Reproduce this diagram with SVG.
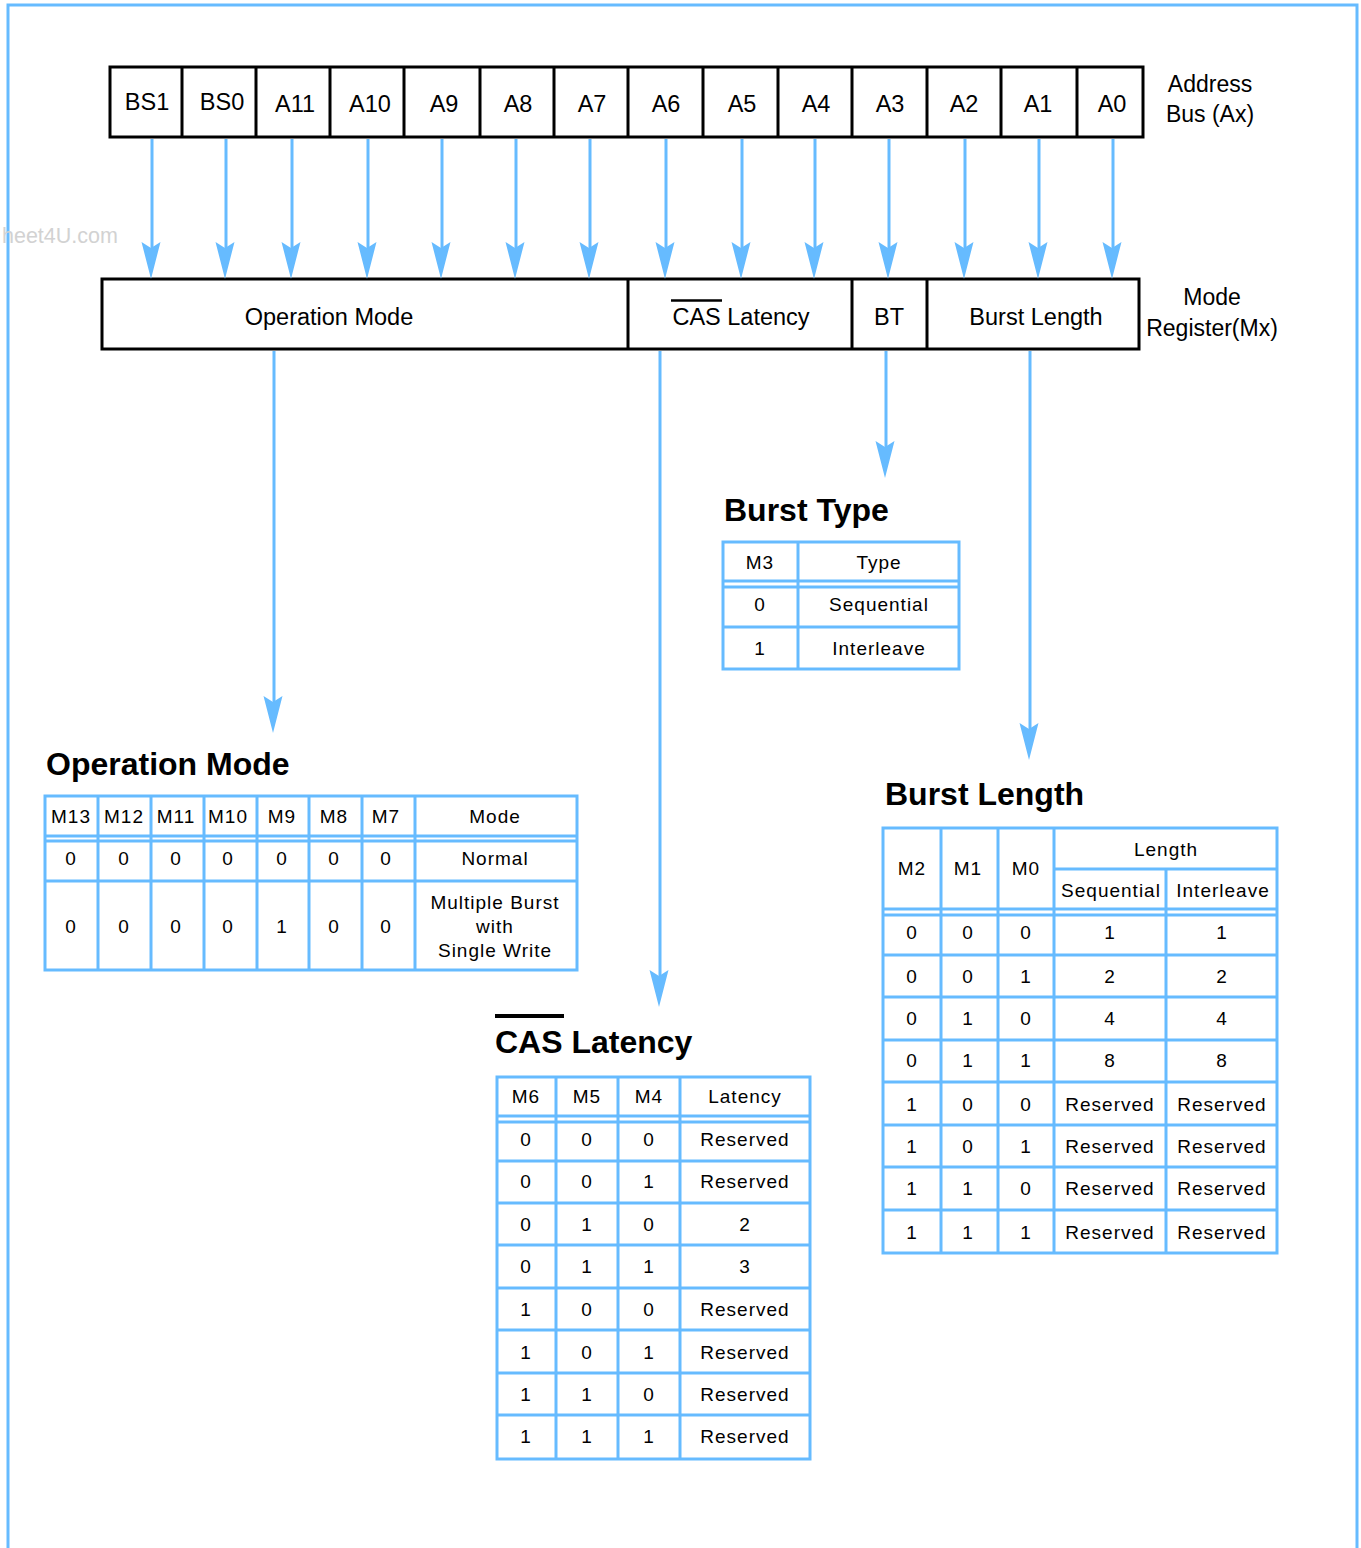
<svg xmlns="http://www.w3.org/2000/svg" xmlns:xlink="http://www.w3.org/1999/xlink" width="1361" height="1548" viewBox="0 0 1361 1548">
<style>
.bg{fill:#ffffff}
.frame{fill:none;stroke:#66bbff;stroke-width:3}
.reg{fill:none;stroke:#000;stroke-width:3}
.rt{font-family:"Liberation Sans",Arial,sans-serif;font-size:23.5px;fill:#000;text-anchor:middle}
.lbl{font-family:"Liberation Sans",Arial,sans-serif;font-size:23px;fill:#000;text-anchor:middle}
.ttl{font-family:"Liberation Sans",Arial,sans-serif;font-size:32px;font-weight:bold;fill:#000}
.tb{fill:none;stroke:#66bbff;stroke-width:3}
.tt{font-family:"Liberation Sans",Arial,sans-serif;font-size:19px;letter-spacing:1px;fill:#000;text-anchor:middle}
.wm{font-family:"Liberation Sans",Arial,sans-serif;font-size:21.5px;fill:#d2d2d2}
.conn{stroke:#66bbff;stroke-width:3;fill:none}
.ah{fill:#66bbff}
</style>
<defs>
<path id="ah" class="ah" d="M-9.5,-37 L0,-31 L9.5,-37 L0,0 Z"/>
</defs>
<rect class="bg" x="0" y="0" width="1361" height="1548"/>
<path class="frame" d="M8,1548 V5 H1357 V1548"/>
<text class="wm" x="2" y="243">heet4U.com</text>

<g id="address-bus">
<rect class="reg" x="110" y="67" width="1033" height="70"/>
<path class="reg" d="M182,67V137 M256,67V137 M330,67V137 M404,67V137 M480,67V137 M554,67V137 M628,67V137 M703,67V137 M778,67V137 M852,67V137 M927,67V137 M1001,67V137 M1077,67V137"/>
<text class="rt" x="147" y="110">BS1</text>
<text class="rt" x="222" y="110">BS0</text>
<text class="rt" x="295" y="112">A11</text>
<text class="rt" x="370" y="112">A10</text>
<text class="rt" x="444" y="112">A9</text>
<text class="rt" x="518" y="112">A8</text>
<text class="rt" x="592" y="112">A7</text>
<text class="rt" x="666" y="112">A6</text>
<text class="rt" x="742" y="112">A5</text>
<text class="rt" x="816" y="112">A4</text>
<text class="rt" x="890" y="112">A3</text>
<text class="rt" x="964" y="112">A2</text>
<text class="rt" x="1038" y="112">A1</text>
<text class="rt" x="1112" y="112">A0</text>
<text class="lbl" x="1210" y="92">Address</text>
<text class="lbl" x="1210" y="122">Bus (Ax)</text>
</g>

<g id="mode-register">
<rect class="reg" x="102" y="279" width="1037" height="70"/>
<path class="reg" d="M628,279V349 M852,279V349 M927,279V349"/>
<text class="rt" x="329" y="325">Operation Mode</text>
<text class="rt" x="741" y="325">CAS Latency</text>
<line x1="671" y1="300.5" x2="722" y2="300.5" stroke="#000" stroke-width="2.5"/>
<text class="rt" x="889" y="325">BT</text>
<text class="rt" x="1036" y="325">Burst Length</text>
<text class="lbl" x="1212" y="305">Mode</text>
<text class="lbl" x="1212" y="336">Register(Mx)</text>
</g>

<g id="connectors">
<path class="conn" d="M152,139V250 M226,139V250 M292,139V250 M368,139V250 M442,139V250 M516,139V250 M590,139V250 M666,139V250 M742,139V250 M815,139V250 M889,139V250 M965,139V250 M1039,139V250 M1113,139V250"/>
<use href="#ah" x="151" y="279"/>
<use href="#ah" x="225" y="279"/>
<use href="#ah" x="291" y="279"/>
<use href="#ah" x="367" y="279"/>
<use href="#ah" x="441" y="279"/>
<use href="#ah" x="515" y="279"/>
<use href="#ah" x="589" y="279"/>
<use href="#ah" x="665" y="279"/>
<use href="#ah" x="741" y="279"/>
<use href="#ah" x="814" y="279"/>
<use href="#ah" x="888" y="279"/>
<use href="#ah" x="964" y="279"/>
<use href="#ah" x="1038" y="279"/>
<use href="#ah" x="1112" y="279"/>
<path class="conn" d="M274,351V704 M660,351V978 M886,351V449 M1030,351V731"/>
<use href="#ah" x="273" y="733"/>
<use href="#ah" x="659" y="1007"/>
<use href="#ah" x="885" y="478"/>
<use href="#ah" x="1029" y="760"/>
</g>

<g id="burst-type">
<text class="ttl" x="724" y="521">Burst Type</text>
<rect class="tb" x="723" y="542" width="236" height="127"/>
<path class="tb" d="M723,581H959 M723,587H959 M723,627H959 M798,542V669"/>
<text class="tt" x="760" y="569">M3</text>
<text class="tt" x="879" y="569">Type</text>
<text class="tt" x="760" y="611">0</text>
<text class="tt" x="879" y="611">Sequential</text>
<text class="tt" x="760" y="655">1</text>
<text class="tt" x="879" y="655">Interleave</text>
</g>

<g id="operation-mode">
<text class="ttl" x="46" y="775">Operation Mode</text>
<rect class="tb" x="45" y="796" width="532" height="174"/>
<path class="tb" d="M45,836H577 M45,841H577 M45,881H577 M98,796V970 M151,796V970 M204,796V970 M257,796V970 M309,796V970 M362,796V970 M415,796V970"/>
<text class="tt" x="71" y="823">M13</text>
<text class="tt" x="124" y="823">M12</text>
<text class="tt" x="176" y="823">M11</text>
<text class="tt" x="228" y="823">M10</text>
<text class="tt" x="282" y="823">M9</text>
<text class="tt" x="334" y="823">M8</text>
<text class="tt" x="386" y="823">M7</text>
<text class="tt" x="495" y="823">Mode</text>
<text class="tt" x="71" y="865">0</text>
<text class="tt" x="124" y="865">0</text>
<text class="tt" x="176" y="865">0</text>
<text class="tt" x="228" y="865">0</text>
<text class="tt" x="282" y="865">0</text>
<text class="tt" x="334" y="865">0</text>
<text class="tt" x="386" y="865">0</text>
<text class="tt" x="495" y="865">Normal</text>
<text class="tt" x="71" y="933">0</text>
<text class="tt" x="124" y="933">0</text>
<text class="tt" x="176" y="933">0</text>
<text class="tt" x="228" y="933">0</text>
<text class="tt" x="282" y="933">1</text>
<text class="tt" x="334" y="933">0</text>
<text class="tt" x="386" y="933">0</text>
<text class="tt" x="495" y="909">Multiple Burst</text>
<text class="tt" x="495" y="933">with</text>
<text class="tt" x="495" y="957">Single Write</text>
</g>

<g id="cas-latency">
<rect x="495" y="1014" width="69" height="4" fill="#000"/>
<text class="ttl" x="495" y="1053">CAS Latency</text>
<rect class="tb" x="497" y="1077" width="313" height="382"/>
<path class="tb" d="M497,1116H810 M497,1122H810 M497,1161H810 M497,1203H810 M497,1245H810 M497,1288H810 M497,1330H810 M497,1373H810 M497,1415H810 M556,1077V1459 M618,1077V1459 M680,1077V1459"/>
<text class="tt" x="526" y="1103">M6</text>
<text class="tt" x="587" y="1103">M5</text>
<text class="tt" x="649" y="1103">M4</text>
<text class="tt" x="745" y="1103">Latency</text>
<text class="tt" x="526" y="1146">0</text><text class="tt" x="587" y="1146">0</text><text class="tt" x="649" y="1146">0</text><text class="tt" x="745" y="1146">Reserved</text>
<text class="tt" x="526" y="1188">0</text><text class="tt" x="587" y="1188">0</text><text class="tt" x="649" y="1188">1</text><text class="tt" x="745" y="1188">Reserved</text>
<text class="tt" x="526" y="1231">0</text><text class="tt" x="587" y="1231">1</text><text class="tt" x="649" y="1231">0</text><text class="tt" x="745" y="1231">2</text>
<text class="tt" x="526" y="1273">0</text><text class="tt" x="587" y="1273">1</text><text class="tt" x="649" y="1273">1</text><text class="tt" x="745" y="1273">3</text>
<text class="tt" x="526" y="1316">1</text><text class="tt" x="587" y="1316">0</text><text class="tt" x="649" y="1316">0</text><text class="tt" x="745" y="1316">Reserved</text>
<text class="tt" x="526" y="1359">1</text><text class="tt" x="587" y="1359">0</text><text class="tt" x="649" y="1359">1</text><text class="tt" x="745" y="1359">Reserved</text>
<text class="tt" x="526" y="1401">1</text><text class="tt" x="587" y="1401">1</text><text class="tt" x="649" y="1401">0</text><text class="tt" x="745" y="1401">Reserved</text>
<text class="tt" x="526" y="1443">1</text><text class="tt" x="587" y="1443">1</text><text class="tt" x="649" y="1443">1</text><text class="tt" x="745" y="1443">Reserved</text>
</g>

<g id="burst-length">
<text class="ttl" x="885" y="805">Burst Length</text>
<rect class="tb" x="883" y="828" width="394" height="425"/>
<path class="tb" d="M1054,869H1277 M883,909H1277 M883,915H1277 M883,955H1277 M883,997H1277 M883,1040H1277 M883,1082H1277 M883,1125H1277 M883,1167H1277 M883,1210H1277 M941,828V1253 M998,828V1253 M1054,828V1253 M1166,869V1253"/>
<text class="tt" x="912" y="875">M2</text>
<text class="tt" x="968" y="875">M1</text>
<text class="tt" x="1026" y="875">M0</text>
<text class="tt" x="1166" y="856">Length</text>
<text class="tt" x="1111" y="897">Sequential</text>
<text class="tt" x="1223" y="897">Interleave</text>
<text class="tt" x="912" y="939">0</text><text class="tt" x="968" y="939">0</text><text class="tt" x="1026" y="939">0</text><text class="tt" x="1110" y="939">1</text><text class="tt" x="1222" y="939">1</text>
<text class="tt" x="912" y="983">0</text><text class="tt" x="968" y="983">0</text><text class="tt" x="1026" y="983">1</text><text class="tt" x="1110" y="983">2</text><text class="tt" x="1222" y="983">2</text>
<text class="tt" x="912" y="1025">0</text><text class="tt" x="968" y="1025">1</text><text class="tt" x="1026" y="1025">0</text><text class="tt" x="1110" y="1025">4</text><text class="tt" x="1222" y="1025">4</text>
<text class="tt" x="912" y="1067">0</text><text class="tt" x="968" y="1067">1</text><text class="tt" x="1026" y="1067">1</text><text class="tt" x="1110" y="1067">8</text><text class="tt" x="1222" y="1067">8</text>
<text class="tt" x="912" y="1111">1</text><text class="tt" x="968" y="1111">0</text><text class="tt" x="1026" y="1111">0</text><text class="tt" x="1110" y="1111">Reserved</text><text class="tt" x="1222" y="1111">Reserved</text>
<text class="tt" x="912" y="1153">1</text><text class="tt" x="968" y="1153">0</text><text class="tt" x="1026" y="1153">1</text><text class="tt" x="1110" y="1153">Reserved</text><text class="tt" x="1222" y="1153">Reserved</text>
<text class="tt" x="912" y="1195">1</text><text class="tt" x="968" y="1195">1</text><text class="tt" x="1026" y="1195">0</text><text class="tt" x="1110" y="1195">Reserved</text><text class="tt" x="1222" y="1195">Reserved</text>
<text class="tt" x="912" y="1239">1</text><text class="tt" x="968" y="1239">1</text><text class="tt" x="1026" y="1239">1</text><text class="tt" x="1110" y="1239">Reserved</text><text class="tt" x="1222" y="1239">Reserved</text>
</g>
</svg>
